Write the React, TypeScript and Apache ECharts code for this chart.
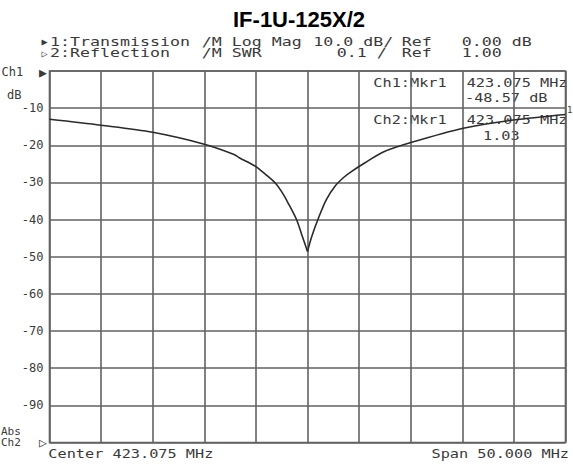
import React, { useEffect, useRef } from "react";
import * as echarts from "echarts";

// ---- data ----
const TITLE = "IF-1U-125X/2";
const START_MHZ = 398.075;
const SPAN_MHZ = 50;
const DIV_MHZ = 5;

const FREQ_MHZ = [
  398.075, 403.075, 408.075, 413.075, 415.9, 416.5, 418.0, 419.0, 419.93, 420.6, 421.21,
  422.03, 422.51, 423.075, 423.48, 424.12, 424.9, 425.74, 426.6, 427.36, 428.65, 430.42,
  433.17, 438.17, 443.02, 448.075,
];
const TRANS_DB = [
  -13.0, -14.6, -16.5, -19.7, -22.4, -23.4, -25.6, -27.8, -30.1, -32.6, -35.6,
  -40.1, -44.0, -48.57, -44.6, -39.7, -34.6, -31.0, -28.6, -27.0, -24.7, -21.8,
  -19.2, -15.4, -13.2, -11.7,
];
const Y_TICK_LABELS = ["-10", "-20", "-30", "-40", "-50", "-60", "-70", "-80", "-90"];

const HEADER_ROW1 = ["1:Transmission", "/M Log Mag", "10.0 dB/", "Ref", "0.00 dB"];
const HEADER_ROW2 = ["2:Reflection", "/M SWR", "0.1 /", "Ref", "1.00"];
const MARKER_CH1 = ["Ch1:Mkr1", "423.075 MHz", "-48.57 dB"];
const MARKER_CH2 = ["Ch2:Mkr1", "423.075 MHz", "1.03"];
const FOOTER_LEFT = "Center 423.075 MHz";
const FOOTER_RIGHT = "Span 50.000 MHz";

const MONO = '"DejaVu Sans Mono", "Liberation Mono", monospace';
const TXT = "#3a3a3a";
const GRID = "#626262";

function mono(text: string, x: number, y: number, scaleX = 1.3, size = 12, align = "left"): any {
  return {
    type: "text",
    x,
    y,
    scaleX,
    silent: true,
    style: {
      text,
      fontFamily: MONO,
      fontSize: size,
      fill: TXT,
      align,
      verticalAlign: "middle",
    },
  };
}

export default function App() {
  const ref = useRef<HTMLDivElement>(null);

  useEffect(() => {
    document.body.style.margin = "0";
    const chart = echarts.init(ref.current!, undefined, { renderer: "svg" });
    const pts = FREQ_MHZ.map((f, i) => [f - START_MHZ, TRANS_DB[i]]);
    // split the trace at its minimum so the notch keeps its sharp tip
    let dip = 0;
    TRANS_DB.forEach((v, i) => {
      if (v < TRANS_DB[dip]) dip = i;
    });
    const leftBranch = pts.slice(0, dip + 1);
    const rightBranch = pts.slice(dip);
    const traceStyle = {
      type: "line",
      showSymbol: false,
      smooth: 0.3,
      lineStyle: { color: "#2a2a2a", width: 1.6 },
      z: 5,
    };
    const h = 1.385;
    const m = 1.27;
    chart.setOption({
      animation: false,
      backgroundColor: "#ffffff",
      title: {
        text: TITLE,
        left: 228,
        top: 3,
        textStyle: {
          fontFamily: '"Liberation Sans", Arial, sans-serif',
          fontWeight: "bold",
          fontSize: 22,
          color: "#000",
        },
      },
      grid: {
        left: 49.5,
        right: 7.5,
        top: 71,
        bottom: 27.5,
        show: true,
        borderColor: GRID,
        borderWidth: 1.6,
        backgroundColor: "transparent",
        containLabel: false,
      },
      xAxis: {
        type: "value",
        min: 0,
        max: SPAN_MHZ,
        interval: DIV_MHZ,
        axisLabel: { show: false },
        axisTick: { show: false },
        axisLine: { show: false },
        splitLine: { show: true, lineStyle: { color: GRID, width: 1.6 } },
      },
      yAxis: {
        type: "value",
        min: -100,
        max: 0,
        interval: 10,
        axisTick: { show: false },
        axisLine: { show: false },
        splitLine: { show: true, lineStyle: { color: GRID, width: 1.6 } },
        axisLabel: {
          margin: 6,
          fontFamily: MONO,
          fontSize: 12,
          color: TXT,
          formatter: (v: number) => (Y_TICK_LABELS.includes(String(v)) ? String(v) : ""),
        },
      },
      series: [
        { ...traceStyle, name: "Transmission", data: leftBranch },
        { ...traceStyle, name: "Transmission ", data: rightBranch },
      ],
      graphic: [
        // header
        mono("▶", 41.5, 41.7, 1.0, 10),
        mono(HEADER_ROW1[0], 50, 41.7, h),
        mono(HEADER_ROW1[1], 201.7, 41.7, h),
        mono(HEADER_ROW1[2], 313.3, 41.7, h),
        mono(HEADER_ROW1[3], 401.7, 41.7, h),
        mono(HEADER_ROW1[4], 461.7, 41.7, h),
        mono("▷", 41.5, 53.3, 1.0, 10),
        mono(HEADER_ROW2[0], 50, 53.3, h),
        mono(HEADER_ROW2[1], 201.7, 53.3, h),
        mono(HEADER_ROW2[2], 336.7, 53.3, h),
        mono(HEADER_ROW2[3], 401.7, 53.3, h),
        mono(HEADER_ROW2[4], 461.7, 53.3, h),
        // left side labels
        mono("Ch1", 1.5, 72, 1.0),
        mono("▶", 39, 72, 1.0, 13),
        mono("dB", 7, 94.5, 1.0),
        mono("Abs", 1, 431, 1.0, 11),
        mono("Ch2", 1, 442.5, 1.0, 11),
        mono("▷", 39, 442.7, 1.0, 13),
        // markers
        mono(MARKER_CH1[0], 373.3, 82.7, m),
        mono(MARKER_CH1[1], 466.7, 82.7, m),
        mono(MARKER_CH1[2], 465, 97.3, m),
        mono(MARKER_CH2[0], 373.3, 120, m),
        mono(MARKER_CH2[1], 466.7, 120, m),
        mono(MARKER_CH2[2], 483, 136, m),
        mono("1", 567, 110, 1.0, 9),
        // footer
        mono(FOOTER_LEFT, 48.3, 453.3, m),
        mono(FOOTER_RIGHT, 569, 453.3, m, 12, "right"),
      ],
    });
    return () => chart.dispose();
  }, []);

  return (
    <div
      ref={ref}
      style={{ position: "absolute", left: 0, top: 0, width: 573, height: 470, background: "#fff" }}
    />
  );
}
